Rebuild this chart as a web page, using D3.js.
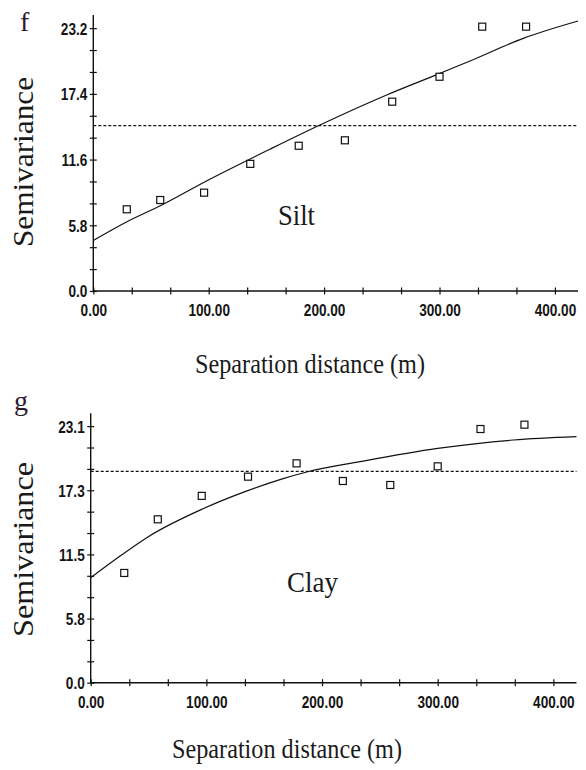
<!DOCTYPE html>
<html>
<head>
<meta charset="utf-8">
<script src="https://cdn.jsdelivr.net/npm/d3@7"></script>
<style>
  html, body { margin: 0; padding: 0; background: #fff; }
  svg { display: block; }
  .tick text { font-family: "Liberation Sans Narrow", "Arial Narrow", "Liberation Sans", Arial, sans-serif; font-weight: bold; font-size: 17px; fill: #141414; }
  .serif { font-family: "Liberation Serif", "Times New Roman", Times, serif; fill: #1a1a1a; }
</style>
</head>
<body>
<svg id="chart" width="586" height="770"></svg>
<script>
// Lag distances of the experimental semivariogram (m)
const lagDistance = [29, 58, 96, 136, 178, 218, 259, 300, 337, 375];

// Silt: experimental semivariance, fitted model curve, sample variance
const siltGamma = [7.21, 8.03, 8.68, 11.22, 12.82, 13.30, 16.71, 18.91, 23.33, 23.33];
const siltModelDist = [0, 27.5, 59.3, 99.7, 153, 196.4, 254.2, 300.4, 326.4, 372.6, 420];
const siltModelGamma = [4.46, 6.03, 7.59, 9.80, 12.51, 14.65, 17.30, 19.21, 20.30, 22.30, 23.83];
const siltVariance = 14.59;
const siltYMax = 23.2;
const siltYLabels = ["0.0", "5.8", "11.6", "17.4", "23.2"];

// Clay
const clayGamma = [9.88, 14.71, 16.82, 18.55, 19.75, 18.16, 17.80, 19.48, 22.84, 23.23];
const clayModelDist = [0, 23.9, 49.8, 96, 133.4, 164.3, 186.8, 232.9, 300, 365.4, 420];
const clayModelGamma = [9.45, 11.29, 13.15, 15.61, 17.20, 18.31, 18.97, 19.90, 21.09, 21.85, 22.15];
const clayVariance = 19.03;
const clayYMax = 23.1;
const clayYLabels = ["0.0", "5.8", "11.5", "17.3", "23.1"];

const xMax = 400;
const xLabels = ["0.00", "100.00", "200.00", "300.00", "400.00"];

const svg = d3.select("#chart");
const narrow = "scale(0.8,1)";

function panel(opt) {
  const g = svg.append("g");
  const x = d3.scaleLinear().domain([0, xMax * 1.05]).range([opt.left, opt.right]);
  const y = d3.scaleLinear().domain([0, opt.yMax * 1.05]).range([opt.bottom, opt.top]);

  // x axis: minor ticks every third of 100 m, labels on the hundreds
  const xTicks = d3.range(13).map(k => k * xMax / 12);
  const xAxis = d3.axisBottom(x).tickValues(xTicks).tickSizeOuter(0)
    .tickFormat((d, i) => i % 3 === 0 ? xLabels[i / 3] : "");
  const gx = g.append("g").attr("transform", `translate(0,${opt.bottom})`).call(xAxis);
  gx.select(".domain").attr("stroke", "#111").attr("stroke-width", 1.4)
    .attr("d", `M${opt.left},0H${x(xMax * 1.05)}`);
  gx.selectAll(".tick line").attr("y1", -3.5).attr("y2", 3.5).attr("stroke", "#111").attr("stroke-width", 1.2);
  gx.selectAll(".tick text").attr("y", 13).attr("dy", "0.71em").attr("transform", narrow);

  // y axis
  const yTicks = d3.range(13).map(k => k * opt.yMax / 12);
  const yAxis = d3.axisLeft(y).tickValues(yTicks).tickSizeOuter(0)
    .tickFormat((d, i) => i % 3 === 0 ? opt.yLabels[i / 3] : "");
  const gy = g.append("g").attr("transform", `translate(${opt.left},0)`).call(yAxis);
  gy.select(".domain").attr("stroke", "#111").attr("stroke-width", 1.4)
    .attr("d", `M0,${opt.bottom}V${y(opt.yMax * 1.05)}`);
  gy.selectAll(".tick line").attr("x1", -3.5).attr("x2", 3.5).attr("stroke", "#111").attr("stroke-width", 1.2);
  gy.selectAll(".tick text").attr("x", -7.5).attr("dy", "0.35em").attr("transform", narrow);

  // sample variance (dashed)
  g.append("line")
    .attr("x1", x(0)).attr("x2", x(xMax * 1.05))
    .attr("y1", y(opt.variance)).attr("y2", y(opt.variance))
    .attr("stroke", "#111").attr("stroke-width", 1.2).attr("stroke-dasharray", "3,2");

  // fitted model
  const line = d3.line().x(d => x(d[0])).y(d => y(d[1])).curve(d3.curveMonotoneX);
  g.append("path")
    .datum(d3.zip(opt.modelDist, opt.modelGamma))
    .attr("d", line).attr("fill", "none").attr("stroke", "#111").attr("stroke-width", 1.2);

  // experimental points
  g.selectAll("rect.pt").data(d3.zip(lagDistance, opt.gamma)).join("rect")
    .attr("class", "pt")
    .attr("x", d => x(d[0]) - 3.5).attr("y", d => y(d[1]) - 3.5)
    .attr("width", 7).attr("height", 7)
    .attr("fill", "#fff").attr("stroke", "#111").attr("stroke-width", 1.2);

  // panel letter
  g.append("text").attr("class", "serif").attr("x", opt.letterX).attr("y", opt.letterY)
    .attr("font-size", 28).style("fill", "#2e1a2e").text(opt.letter);

  // y title
  g.append("text").attr("class", "serif")
    .attr("transform", `translate(33,${opt.yTitleY}) rotate(-90)`)
    .attr("text-anchor", "middle").attr("font-size", 30)
    .attr("textLength", opt.yTitleLen).attr("lengthAdjust", "spacingAndGlyphs")
    .text("Semivariance");

  // x title
  g.append("text").attr("class", "serif")
    .attr("x", opt.xTitleX).attr("y", opt.xTitleY)
    .attr("font-size", 27)
    .attr("textLength", 230).attr("lengthAdjust", "spacingAndGlyphs")
    .text("Separation distance (m)");

  // variable name
  g.append("text").attr("class", "serif")
    .attr("x", opt.nameX).attr("y", opt.nameY).attr("font-size", 30)
    .attr("textLength", opt.nameLen).attr("lengthAdjust", "spacingAndGlyphs")
    .text(opt.name);
}

panel({
  left: 93.3, right: 578, top: 15, bottom: 291,
  yMax: siltYMax, yLabels: siltYLabels,
  gamma: siltGamma, modelDist: siltModelDist, modelGamma: siltModelGamma,
  variance: siltVariance,
  letter: "f", letterX: 20, letterY: 31,
  yTitleY: 162, yTitleLen: 170,
  xTitleX: 195, xTitleY: 373,
  name: "Silt", nameX: 278, nameY: 225, nameLen: 37
});

panel({
  left: 90.7, right: 576.5, top: 413.3, bottom: 682.7,
  yMax: clayYMax, yLabels: clayYLabels,
  gamma: clayGamma, modelDist: clayModelDist, modelGamma: clayModelGamma,
  variance: clayVariance,
  letter: "g", letterX: 14, letterY: 410,
  yTitleY: 549.5, yTitleLen: 175,
  xTitleX: 172, xTitleY: 758,
  name: "Clay", nameX: 287, nameY: 591.7, nameLen: 51
});
</script>
</body>
</html>
